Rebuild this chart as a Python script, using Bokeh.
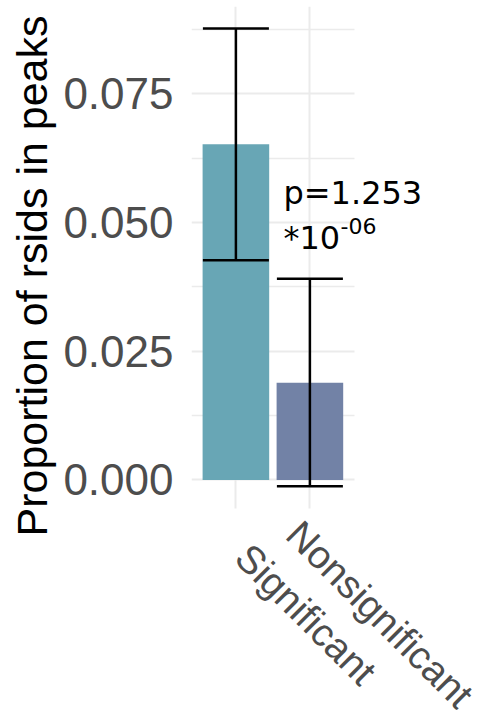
import math
from bokeh.plotting import figure
from bokeh.models import (Range1d, FixedTicker, NumeralTickFormatter,
                          Whisker, TeeHead, ColumnDataSource, Label, Title)
from bokeh.core.properties import value
from bokeh.embed import file_html
from bokeh.resources import INLINE

# ---- data ----
CATEGORIES = ["Significant", "Nonsignificant"]
PROPORTIONS = [0.0652, 0.0189]
ERR_LOWER = [0.0427, -0.0012]
ERR_UPPER = [0.0877, 0.0391]
BAR_COLORS = ["#68A6B5", "#7282A6"]
Y_TICKS = [0.0, 0.025, 0.05, 0.075]
Y_MINOR_TICKS = [0.0125, 0.0375, 0.0625, 0.0875]
Y_TITLE = "Proportion of rsids in peaks"
P_TEXT = "p=1.253"
P_EXP_BASE = "*10"
P_EXP_POWER = "-06"

# ---- layout constants (data units) ----
X_POS = [i + 0.5 for i in range(len(CATEGORIES))]
PANEL_X = (-0.1, len(CATEGORIES) + 0.1)      # panel extent (discrete expansion)
PANEL_Y = (-0.00554, 0.09198)
FIG_X = (-0.1, 3.819)                         # frame reaches the right edge
FIG_Y = (-0.04478, 0.09198)                   # frame reaches the bottom edge
X_LABEL_Y = -0.0261
ANNOT_X = 1.143
ANNOT_Y1 = 0.0558
ANNOT_Y2 = 0.0471

src = ColumnDataSource(dict(x=X_POS, cat=CATEGORIES, prop=PROPORTIONS,
                            lower=ERR_LOWER, upper=ERR_UPPER, color=BAR_COLORS,
                            ly=[X_LABEL_Y] * len(CATEGORIES)))

p = figure(x_range=Range1d(*FIG_X), y_range=Range1d(*FIG_Y),
           width=481, height=710, output_backend="svg", toolbar_location=None,
           title=None, min_border_left=191, min_border_right=0,
           min_border_top=6, min_border_bottom=0)
p.outline_line_color = None
p.background_fill_color = "white"
p.border_fill_color = "white"
p.xaxis.visible = False

# grid
yt = FixedTicker(ticks=Y_TICKS, minor_ticks=Y_MINOR_TICKS)
p.yaxis.ticker = yt
p.ygrid.ticker = yt
p.ygrid.bounds = PANEL_Y
p.ygrid.cross_bounds = PANEL_X
p.ygrid.grid_line_color = "#EBEBEB"
p.ygrid.grid_line_width = 2
p.ygrid.minor_grid_line_color = "#EBEBEB"
p.ygrid.minor_grid_line_width = 1.5
xt = FixedTicker(ticks=X_POS, minor_ticks=[])
p.xgrid.ticker = xt
p.xgrid.cross_bounds = PANEL_Y
p.xgrid.grid_line_color = "#EBEBEB"
p.xgrid.grid_line_width = 2

# bars
p.vbar(x="x", top="prop", bottom=0, width=0.9, fill_color="color",
       line_color=None, source=src)

# error bars
w = Whisker(base="x", lower="lower", upper="upper", source=src,
            line_color="black", line_width=2.5, level="overlay",
            upper_head=TeeHead(size=66, line_color="black", line_width=2.5),
            lower_head=TeeHead(size=66, line_color="black", line_width=2.5))
p.add_layout(w)

# y axis
ya = p.yaxis[0]
ya.formatter = NumeralTickFormatter(format="0.000")
ya.axis_line_color = None
ya.major_tick_line_color = None
ya.minor_tick_line_color = None
ya.major_tick_out = 0
ya.major_tick_in = 0
ya.minor_tick_out = 0
ya.minor_tick_in = 0
ya.major_label_text_font = "Liberation Sans"
ya.major_label_text_font_size = "44px"
ya.major_label_text_color = "#4D4D4D"
ya.major_label_standoff = 18

# y axis title (placed as a side title so it can sit as in the reference)
yt_title = Title(text=Y_TITLE, align="left", offset=174, standoff=10,
                 text_font="Liberation Sans", text_font_size="43px",
                 text_font_style="normal", text_color="black")
p.add_layout(yt_title, "left")

# x tick labels (rotated, below the panel)
p.text(x="x", y="ly", text="cat", source=src, angle=-math.pi / 4,
       text_align="center", text_baseline="middle", x_offset=70,
       text_font=value("Liberation Sans"), text_font_size="39px",
       text_color="#4D4D4D")

# p-value annotation
p.add_layout(Label(x=ANNOT_X, y=ANNOT_Y1, text=P_TEXT, text_font="DejaVu Sans",
                   text_font_size="32px", text_color="black",
                   text_baseline="alphabetic", text_align="left"))
p.add_layout(Label(x=ANNOT_X, y=ANNOT_Y2, text=P_EXP_BASE, text_font="DejaVu Sans",
                   text_font_size="32px", text_color="black",
                   text_baseline="alphabetic", text_align="left"))
p.add_layout(Label(x=ANNOT_X, y=ANNOT_Y2, x_offset=57, y_offset=12, text=P_EXP_POWER,
                   text_font="DejaVu Sans", text_font_size="22px", text_color="black",
                   text_baseline="alphabetic", text_align="left"))

open("out.html", "w").write(file_html(p, INLINE))
